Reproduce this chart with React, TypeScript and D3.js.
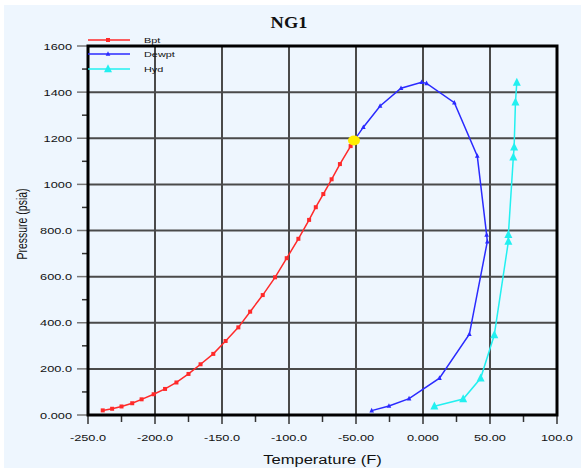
import { scaleLinear, line, range } from 'd3'

// Bpt (bubble point) curve, temperature F / pressure psia
const bptT = [-239, -232, -225, -217, -210, -201, -192.5, -184, -175, -166, -156.5, -147.3, -137.8, -129, -119.6, -110.4, -101.7, -93, -85, -80, -74.4, -68.2, -62, -54]
const bptP = [20, 27, 37, 51, 68, 90, 113, 141, 178, 220, 265, 321, 380, 448, 520, 597, 680, 764, 846, 901, 958, 1022, 1088, 1166]

// Dewpt curve
const dewT = [-51.5, -44.5, -32, -16.4, -1, 2.7, 23.4, 40.5, 47.5, 48, 34.6, 12.3, -10.4, -25.4, -38.3]
const dewP = [1190, 1248, 1340, 1417, 1443, 1438, 1354, 1123, 781, 752, 350, 160, 71, 39, 19]

// Hydrate curve
const hydT = [8.5, 30, 43, 53.2, 63.7, 63.7, 67.4, 68, 69, 70]
const hydP = [38, 69, 159, 347, 752, 781, 1117, 1161, 1356, 1441]

// critical point
const critT = -51.5
const critP = 1190

const xTicks = [-250, -200, -150, -100, -50, 0, 50, 100]
const xTickLabels = ['-250.0', '-200.0', '-150.0', '-100.0', '-50.00', '0.000', '50.00', '100.0']
const yTicks = [0, 200, 400, 600, 800, 1000, 1200, 1400, 1600]
const yTickLabels = ['0.000', '200.0', '400.0', '600.0', '800.0', '1000', '1200', '1400', '1600']

const seriesNames = ['Bpt', 'Dewpt', 'Hyd']
const seriesColors = ['#ff2a2a', '#2a2aff', '#22f0f0']

const W = 581
const H = 468
const left = 88
const right = 557
const top = 46
const bottom = 415
const SX = 1.42 // the picture is stretched sideways, so is the text
const font = 'Liberation Sans, Arial, sans-serif'

let x = scaleLinear().domain([-250, 100]).range([left, right])
let y = scaleLinear().domain([0, 1600]).range([bottom, top])

let Txt = ({ tx, ty, size, anchor = 'start', children, sx = SX, weight = 'normal', family = font, rot = 0 }: any) => (
  <text
    transform={`translate(${tx},${ty}) scale(${sx},1)${rot ? ` rotate(${rot})` : ''}`}
    fontSize={size}
    fontFamily={family}
    fontWeight={weight}
    textAnchor={anchor}
    fill="#111"
  >
    {children}
  </text>
)

let sq = (cx: number, cy: number, s: number) => `M${cx - s},${cy - s}h${2 * s}v${2 * s}h${-2 * s}Z`
let tri = (cx: number, cy: number, s: number) => `M${cx},${cy - s * 1.2}L${cx + s},${cy + s * 0.8}L${cx - s},${cy + s * 0.8}Z`

const App = () => {
  let path = line<[number, number]>().x(d => x(d[0])).y(d => y(d[1]))
  let bpt = bptT.map((t, i) => [t, bptP[i]] as [number, number])
  let dew = dewT.map((t, i) => [t, dewP[i]] as [number, number])
  let hyd = hydT.map((t, i) => [t, hydP[i]] as [number, number])
  let minorX = range(-225, 100, 50)
  let minorY = range(100, 1600, 200)
  let legendY = [40, 54, 69]

  return (
    <svg width={W} height={H} style={{ position: 'absolute', left: 0, top: 0 }}>
      <rect width={W} height={H} fill="#fff" />
      <rect x={4} y={5} width={W - 4} height={H - 5} fill="#eef6fe" />

      <Txt tx={289} ty={28} size={16} anchor="middle" weight="bold" family="Liberation Serif, Times New Roman, serif" sx={1.15}>NG1</Txt>

      {/* grid */}
      {xTicks.slice(1, -1).map(t => (
        <line key={'gx' + t} x1={x(t)} x2={x(t)} y1={top} y2={bottom} stroke="#4a4a4a" strokeWidth={2} />
      ))}
      {yTicks.slice(1, -1).map(t => (
        <line key={'gy' + t} x1={left} x2={right} y1={y(t)} y2={y(t)} stroke="#4a4a4a" strokeWidth={2} />
      ))}

      {/* ticks */}
      {xTicks.map(t => <line key={'tx' + t} x1={x(t)} x2={x(t)} y1={bottom} y2={bottom + 9} stroke="#333" strokeWidth={1.5} />)}
      {minorX.map(t => <line key={'mx' + t} x1={x(t)} x2={x(t)} y1={bottom} y2={bottom + 7} stroke="#333" strokeWidth={1.5} />)}
      {yTicks.map(t => <line key={'ty' + t} x1={left - 11} x2={left} y1={y(t)} y2={y(t)} stroke="#777" strokeWidth={1.5} />)}
      {minorY.map(t => <line key={'my' + t} x1={left - 6} x2={left} y1={y(t)} y2={y(t)} stroke="#333" strokeWidth={1.5} />)}

      <rect x={left} y={top} width={right - left} height={bottom - top} fill="none" stroke="#000" strokeWidth={3} />

      {xTicks.map((t, i) => (
        <Txt key={'lx' + t} tx={x(t)} ty={441} size={9} anchor="middle">{xTickLabels[i]}</Txt>
      ))}
      {yTicks.map((t, i) => (
        <Txt key={'ly' + t} tx={72} ty={y(t) + 3.5} size={9} anchor="end">{yTickLabels[i]}</Txt>
      ))}

      <Txt tx={(left + right) / 2} ty={464} size={12} anchor="middle" sx={1.38}>Temperature (F)</Txt>
      <Txt tx={27} ty={224} size={10.5} anchor="middle" sx={1.38} rot={-90}>Pressure (psia)</Txt>

      {/* series */}
      <path d={path(bpt) ?? ''} fill="none" stroke={seriesColors[0]} strokeWidth={1.5} />
      {bpt.map((d, i) => <path key={'b' + i} d={sq(x(d[0]), y(d[1]), 2)} fill={seriesColors[0]} />)}

      <path d={path(dew) ?? ''} fill="none" stroke={seriesColors[1]} strokeWidth={1.5} />
      {dew.slice(1).map((d, i) => <path key={'d' + i} d={tri(x(d[0]), y(d[1]), 2.3)} fill={seriesColors[1]} />)}

      <path d={path(hyd) ?? ''} fill="none" stroke={seriesColors[2]} strokeWidth={1.5} />
      {hyd.map((d, i) => <path key={'h' + i} d={tri(x(d[0]), y(d[1]), 4)} fill={seriesColors[2]} />)}

      <ellipse cx={x(critT)} cy={y(critP)} rx={6} ry={5} fill="#ffee00" />

      {/* legend */}
      {seriesNames.map((n, i) => (
        <g key={n}>
          <line x1={88} x2={130} y1={legendY[i]} y2={legendY[i]} stroke={seriesColors[i]} strokeWidth={1.5} />
          <path d={i === 0 ? sq(108, legendY[i], 2) : tri(108, legendY[i], i === 1 ? 2.3 : 4)} fill={seriesColors[i]} />
          <Txt tx={144} ty={legendY[i] + 3} size={7.5} sx={1.45}>{n}</Txt>
        </g>
      ))}
    </svg>
  )
}

export default App
